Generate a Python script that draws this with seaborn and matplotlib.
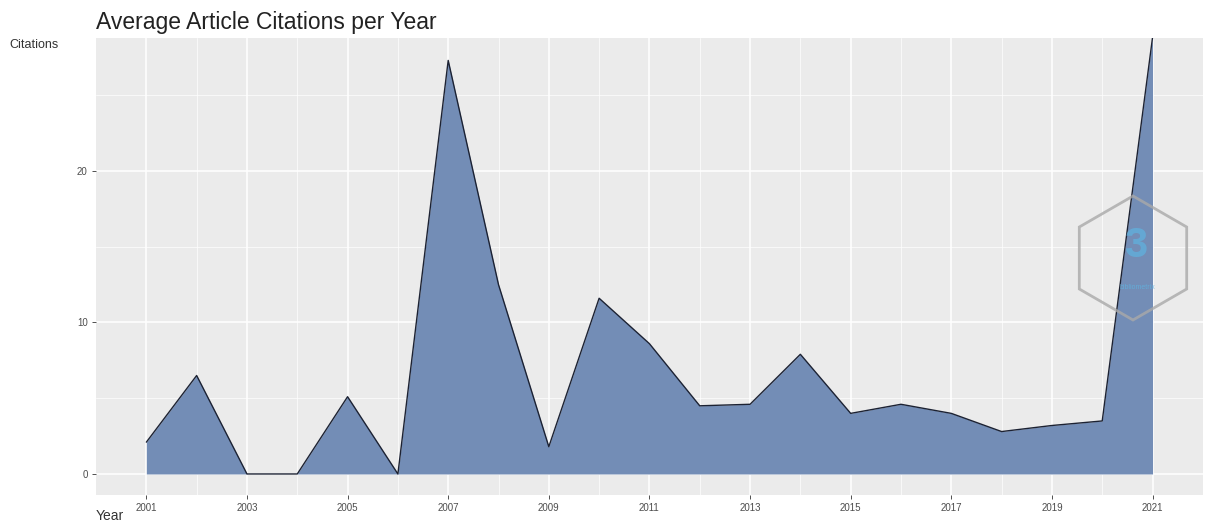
import numpy as np
import pandas as pd
import matplotlib
matplotlib.use("Agg")
import matplotlib.pyplot as plt
from matplotlib.patches import RegularPolygon
import seaborn as sns

# Average citations per article
years = list(range(2001, 2022))
citations = [2.1, 6.5, 0.0, 0.0, 5.1, 0.0, 27.3, 12.5, 1.8, 11.6, 8.6,
             4.5, 4.6, 7.9, 4.0, 4.6, 4.0, 2.8, 3.2, 3.5, 28.8]
x_breaks = list(range(2001, 2022, 2))
y_breaks = [0, 10, 20]

df = pd.DataFrame({"Year": years, "Citations": citations})

sns.set_theme(style="darkgrid")
plt.rcParams["font.family"] = ["Liberation Sans", "DejaVu Sans"]

fig = plt.figure(figsize=(12.05, 5.24), dpi=100)
ax = fig.add_axes([0.0797, 0.0553, 0.9185, 0.8722])
ax.set_facecolor("#EBEBEB")

ax.fill_between(df["Year"], 0, df["Citations"], color="#738db6", linewidth=0, zorder=2)
sns.lineplot(data=df, x="Year", y="Citations", color="#1c2233", linewidth=1.0, ax=ax, zorder=3)

ax.set_xlim(2000, 2022)
ax.set_ylim(-1.39, 28.78)
ax.set_xticks(x_breaks)
ax.set_xticks(list(range(2002, 2022, 2)), minor=True)
ax.set_yticks(y_breaks)
ax.set_yticks([5, 15, 25], minor=True)
ax.grid(which="major", color="white", linewidth=1.1)
ax.grid(which="minor", color="white", linewidth=0.5)
for s in ax.spines.values():
    s.set_visible(False)
ax.tick_params(axis="both", which="major", labelsize=7, labelcolor="#4D4D4D",
               length=3, width=0.6, color="#333333", pad=3, bottom=True, left=True)
ax.tick_params(axis="both", which="minor", length=0)
ax.set_xlabel("")
ax.set_ylabel("")

fig.text(0.0797, 0.958, "Average Article Citations per Year", fontsize=16.5,
         color="#222222", ha="left", va="center")
fig.text(0.008, 0.915, "Citations", fontsize=9, color="#333333", ha="left", va="center")
fig.text(0.0797, 0.015, "Year", fontsize=10, color="#333333", ha="left", va="center")

# bibliometrix watermark (placed in inches so the hexagon stays regular)
hexagon = RegularPolygon((11.33, 2.66), numVertices=6, radius=0.62, orientation=0,
                         transform=fig.dpi_scale_trans, fill=False, edgecolor="#a9a9a9",
                         linewidth=2, alpha=0.8, zorder=5)
fig.patches.append(hexagon)
fig.text(0.942, 0.53, "3", fontsize=30, color="#5fb3e0", alpha=0.7,
         ha="center", va="center", fontweight="bold")
fig.text(0.944, 0.452, "bibliometrix", fontsize=5, color="#5fb3e0", alpha=0.8,
         ha="center", va="center")

fig.savefig("out.png", dpi=100)
